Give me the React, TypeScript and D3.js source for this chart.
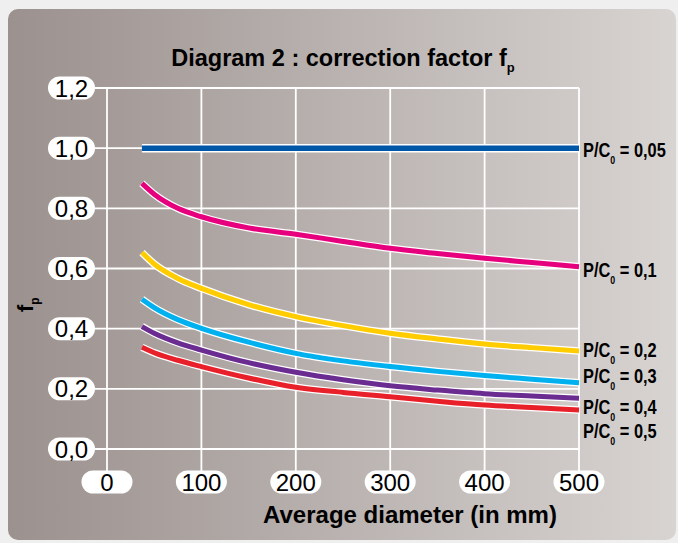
import React from "react";
import * as d3 from "d3";

const diameters = [37, 50, 75, 100, 150, 200, 250, 300, 350, 400, 450, 500];
const seriesNames = ["0,05", "0,1", "0,2", "0,3", "0,4", "0,5"];
const seriesColors = ["#0057a8", "#e6007e", "#ffcc00", "#00b0ef", "#6b2c91", "#e8202a"];
const fp005 = [1.0, 1.0, 1.0, 1.0, 1.0, 1.0, 1.0, 1.0, 1.0, 1.0, 1.0, 1.0];
const fp01 = [0.883, 0.847, 0.8, 0.772, 0.735, 0.714, 0.69, 0.667, 0.65, 0.634, 0.62, 0.606];
const fp02 = [0.653, 0.615, 0.567, 0.534, 0.48, 0.44, 0.41, 0.385, 0.366, 0.349, 0.337, 0.326];
const fp03 = [0.498, 0.47, 0.43, 0.401, 0.355, 0.318, 0.293, 0.274, 0.258, 0.244, 0.232, 0.22];
const fp04 = [0.407, 0.385, 0.353, 0.329, 0.287, 0.255, 0.23, 0.21, 0.196, 0.184, 0.176, 0.169];
const fp05 = [0.338, 0.32, 0.295, 0.274, 0.236, 0.205, 0.188, 0.174, 0.159, 0.146, 0.138, 0.13];
const seriesValues = [fp005, fp01, fp02, fp03, fp04, fp05];
const xTicks = [0, 100, 200, 300, 400, 500];
const yTicks = [0, 0.2, 0.4, 0.6, 0.8, 1.0, 1.2];
const yTickLabels = ["0,0", "0,2", "0,4", "0,6", "0,8", "1,0", "1,2"];

// layout: legend label baselines (pixels)
const labelBaselines = [157, 277, 357, 383, 414, 438];

export default function App() {
  const W = 678, H = 543;
  const x = d3.scaleLinear().domain([0, 500]).range([107, 579]);
  const y = d3.scaleLinear().domain([0, 1.2]).range([449, 88]);
  const line = d3
    .line<number>()
    .x((_, i) => x(diameters[i]))
    .y((v) => y(v))
    .curve(d3.curveMonotoneX);
  const font = "'Liberation Sans', Arial, Helvetica, sans-serif";
  return (
    <svg width={W} height={H} style={{ position: "absolute", left: 0, top: 0 }} fontFamily={font}>
      <defs>
        <linearGradient id="bg" x1="0" x2="1" y1="0" y2="0">
          <stop offset="0" stopColor="#9b918e" />
          <stop offset="1" stopColor="#d8d4d2" />
        </linearGradient>
      </defs>
      <rect x={0} y={0} width={W} height={H} fill="#efefef" />
      <rect x={8} y={9} width={668} height={531} rx={10} fill="url(#bg)" />
      {/* grid */}
      {yTicks.map((t) => (
        <line key={"h" + t} x1={95} x2={579} y1={y(t)} y2={y(t)} stroke="#fff" strokeWidth={1.8} />
      ))}
      {xTicks.map((t) => (
        <line key={"v" + t} x1={x(t)} x2={x(t)} y1={y(1.2)} y2={471} stroke="#fff" strokeWidth={1.8} />
      ))}
      {/* y tick pills */}
      {yTicks.map((t, i) => (
        <g key={"yt" + t}>
          <rect x={48} y={y(t) - 11.5} width={47} height={23} rx={11.5} fill="#fff" />
          <text x={71.5} y={y(t) + 8.6} textAnchor="middle" fontSize={24} fill="#000">
            {yTickLabels[i]}
          </text>
        </g>
      ))}
      {/* x tick pills */}
      {xTicks.map((t) => (
        <g key={"xt" + t}>
          <rect x={x(t) - 25.5} y={470.5} width={51} height={23} rx={11.5} fill="#fff" />
          <text x={x(t)} y={482 + 8.6} textAnchor="middle" fontSize={24} fill="#000">
            {String(t)}
          </text>
        </g>
      ))}
      {/* curves */}
      {seriesValues.map((vals, i) => (
        <g key={"s" + i}>
          <path d={line(vals) || ""} fill="none" stroke="#fff" strokeWidth={i === 0 ? 8.5 : 7.5} />
          <path d={line(vals) || ""} fill="none" stroke={seriesColors[i]} strokeWidth={i === 0 ? 5.5 : 5} />
        </g>
      ))}
      {/* legend labels */}
      {seriesNames.map((n, i) => (
        <g key={"l" + i} transform={`translate(583,${labelBaselines[i]}) scale(0.8,1)`}>
          <text x={0} y={0} fontSize={20.5} fontWeight="bold" fill="#000">
            P/C
            <tspan fontSize={11} dy={7}>0</tspan>
            <tspan dy={-7}> = {n}</tspan>
          </text>
        </g>
      ))}
      {/* title */}
      <text x={343} y={66} textAnchor="middle" fontSize={23.5} fontWeight="bold" fill="#000">
        Diagram 2 : correction factor f<tspan fontSize={13} dy={6}>p</tspan>
      </text>
      {/* axis titles */}
      <text x={410} y={523} textAnchor="middle" fontSize={24} fontWeight="bold" fill="#000">
        Average diameter (in mm)
      </text>
      <g transform="translate(33,312) rotate(-90)">
        <text x={0} y={0} fontSize={22} fontWeight="bold" fill="#000">
          f<tspan fontSize={12} dy={6}>p</tspan>
        </text>
      </g>
    </svg>
  );
}
